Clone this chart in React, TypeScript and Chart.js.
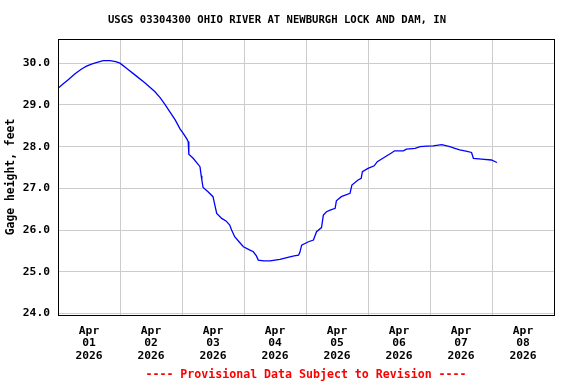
import React, { useEffect, useRef } from 'react';
import { Chart, registerables } from 'chart.js';

Chart.register(...registerables);

const chartTitle = 'USGS 03304300 OHIO RIVER AT NEWBURGH LOCK AND DAM, IN';
const yAxisTitle = 'Gage height, feet';
const footerText = '---- Provisional Data Subject to Revision ----';
const tickMonth = 'Apr';
const tickYear = '2026';
const tickDays = ['01', '02', '03', '04', '05', '06', '07', '08'];
const yTickValues = [24, 25, 26, 27, 28, 29, 30];

// days since Apr 01 2026 00:00
const dayOffsets = [
  0.0, 0.08, 0.16, 0.27, 0.38, 0.46, 0.54, 0.63, 0.73, 0.84, 0.93, 1.0,
  1.12, 1.24, 1.4, 1.56, 1.65, 1.73, 1.81, 1.89, 1.97, 2.02, 2.08, 2.1,
  2.11, 2.18, 2.29, 2.31, 2.32, 2.34, 2.42, 2.5, 2.53, 2.56, 2.64, 2.71,
  2.77, 2.8, 2.85, 2.92, 2.99, 3.08, 3.15, 3.2, 3.23, 3.32, 3.42, 3.5,
  3.58, 3.66, 3.74, 3.81, 3.88, 3.9, 3.93, 4.04, 4.12, 4.17, 4.25, 4.28,
  4.33, 4.39, 4.47, 4.49, 4.57, 4.71, 4.74, 4.84, 4.89, 4.91, 5.0, 5.1,
  5.15, 5.24, 5.37, 5.43, 5.57, 5.62, 5.76, 5.84, 5.95, 6.05, 6.19, 6.32,
  6.4, 6.48, 6.58, 6.67, 6.7, 6.83, 6.99, 7.08,
];
const gageHeights = [
  29.4, 29.5, 29.6, 29.74, 29.86, 29.93, 29.98, 30.02, 30.06, 30.06, 30.04, 30.0,
  29.86, 29.72, 29.53, 29.32, 29.17, 29.0, 28.82, 28.64, 28.42, 28.32, 28.18, 28.12,
  27.82, 27.72, 27.52, 27.3, 27.2, 27.02, 26.92, 26.8, 26.6, 26.4, 26.28, 26.22,
  26.12, 26.0, 25.84, 25.72, 25.6, 25.53, 25.48, 25.38, 25.28, 25.26, 25.26, 25.28,
  25.3, 25.33, 25.36, 25.38, 25.4, 25.46, 25.64, 25.72, 25.76, 25.96, 26.06, 26.36,
  26.44, 26.48, 26.52, 26.7, 26.8, 26.88, 27.08, 27.2, 27.24, 27.4, 27.48, 27.54,
  27.64, 27.72, 27.84, 27.9, 27.9, 27.94, 27.96, 28.0, 28.01, 28.02, 28.05, 28.0,
  27.96, 27.92, 27.89, 27.86, 27.72, 27.7, 27.68, 27.62,
];

const FONT = "'DejaVu Sans Mono', monospace";

const borderPlugin = {
  id: 'plotBorder',
  afterDraw(chart: any) {
    const { ctx, chartArea } = chart;
    ctx.save();
    ctx.strokeStyle = '#000000';
    ctx.lineWidth = 1;
    ctx.strokeRect(
      Math.round(chartArea.left) + 0.5,
      Math.round(chartArea.top) + 0.5,
      Math.round(chartArea.right - chartArea.left),
      Math.round(chartArea.bottom - chartArea.top)
    );
    ctx.restore();
  },
};

export default function App() {
  const canvasRef = useRef<HTMLCanvasElement | null>(null);

  useEffect(() => {
    if (!canvasRef.current) return;
    const points = dayOffsets.map((d, i) => ({ x: d, y: gageHeights[i] }));
    const chart = new Chart(canvasRef.current, {
      type: 'line',
      data: {
        datasets: [
          {
            label: yAxisTitle,
            data: points,
            borderColor: '#0000ff',
            borderWidth: 1.3,
            pointRadius: 0,
            tension: 0,
            fill: false,
          },
        ],
      },
      options: {
        responsive: false,
        animation: false,
        layout: { padding: { left: 0, right: 22, top: 0, bottom: 0 } },
        plugins: {
          legend: { display: false },
          tooltip: { enabled: false },
          title: {
            display: true,
            text: chartTitle,
            color: '#000000',
            font: { family: FONT, size: 10.6, weight: 'bold', lineHeight: 1.2 },
            padding: { top: 13.64, bottom: 12.64 },
          },
          subtitle: {
            display: true,
            position: 'bottom',
            fullSize: false,
            text: footerText,
            color: '#ff0000',
            font: { family: FONT, size: 11.6, weight: 'bold', lineHeight: 1.2 },
            padding: { top: 1, bottom: 2.08 },
          },
        },
        scales: {
          x: {
            type: 'linear',
            min: 0,
            max: 8,
            afterBuildTicks: (scale: any) => {
              const t = [];
              for (let i = 0; i <= 16; i++) t.push({ value: i / 2 });
              scale.ticks = t;
            },
            afterFit: (scale: any) => {
              scale.height = 52;
            },
            ticks: {
              autoSkip: false,
              maxRotation: 0,
              minRotation: 0,
              padding: 9.4,
              color: '#000000',
              font: { family: FONT, size: 11.3, weight: 'bold', lineHeight: 1.12 },
              callback: (value: any) => {
                const v = Number(value);
                if (Number.isInteger(v)) return '';
                const idx = Math.floor(v);
                return [tickMonth, tickDays[idx], tickYear];
              },
            },
            grid: {
              drawTicks: false,
              lineWidth: 1,
              color: (ctx: any) =>
                ctx.tick && Number.isInteger(ctx.tick.value) ? '#cccccc' : 'rgba(0,0,0,0)',
            },
            border: { display: false },
          },
          y: {
            type: 'linear',
            min: 23.964,
            max: 30.58,
            afterBuildTicks: (scale: any) => {
              scale.ticks = yTickValues.map((v) => ({ value: v }));
            },
            afterFit: (scale: any) => {
              scale.width = 58;
            },
            ticks: {
              padding: 8,
              color: '#000000',
              font: { family: FONT, size: 11.3, weight: 'bold' },
              callback: (value: any) => Number(value).toFixed(1),
            },
            grid: {
              drawTicks: false,
              lineWidth: 1,
              color: '#cccccc',
            },
            border: { display: false },
            title: {
              display: true,
              text: yAxisTitle,
              color: '#000000',
              font: { family: FONT, size: 11.4, weight: 'bold', lineHeight: 1.2 },
              padding: { top: 4.2, bottom: 0 },
            },
          },
        },
      },
      plugins: [borderPlugin],
    } as any);
    return () => chart.destroy();
  }, []);

  return (
    <div style={{ position: 'fixed', left: 0, top: 0, width: 576, height: 384, background: '#ffffff' }}>
      <canvas ref={canvasRef} width={576} height={384} style={{ display: 'block', width: 576, height: 384 }} />
    </div>
  );
}
